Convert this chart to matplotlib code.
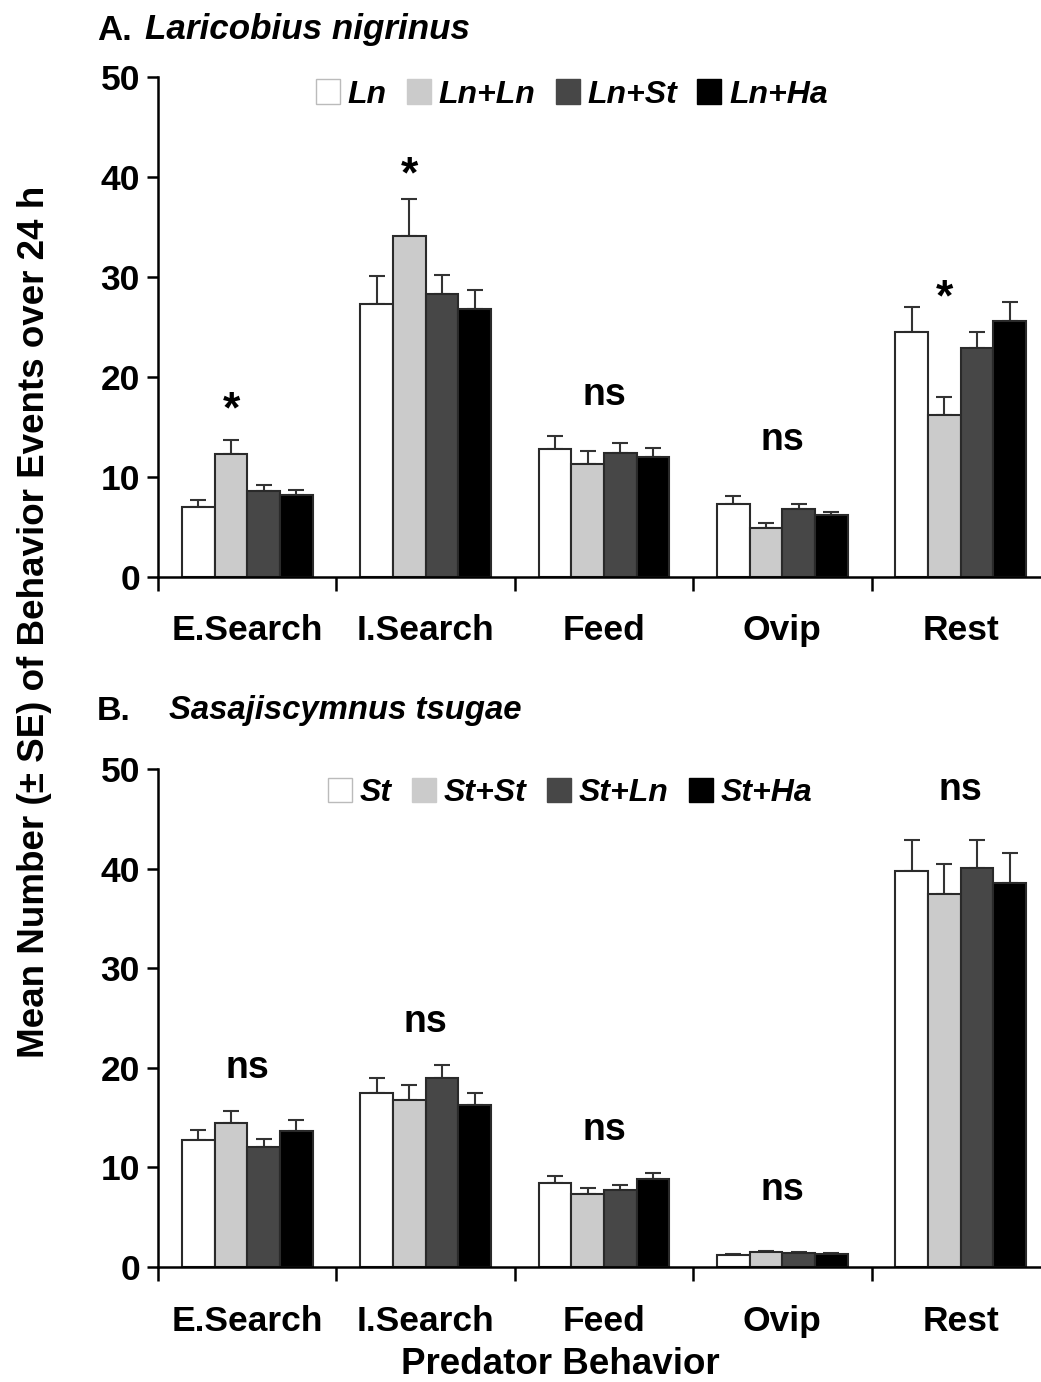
import numpy as np
from matplotlib import pyplot as plt
from matplotlib.patches import Patch

plt.rcParams['font.family'] = ['Liberation Sans', 'DejaVu Sans']
plt.rcParams['font.weight'] = 'bold'

behaviors = ["E.Search", "I.Search", "Feed", "Ovip", "Rest"]

# panel A: Laricobius nigrinus
groups_a = ["Ln", "Ln+Ln", "Ln+St", "Ln+Ha"]
mean_ln = [7.0, 27.3, 12.8, 7.3, 24.5]
mean_lnln = [12.3, 34.1, 11.3, 4.9, 16.2]
mean_lnst = [8.6, 28.3, 12.4, 6.8, 22.9]
mean_lnha = [8.2, 26.8, 12.0, 6.2, 25.6]
se_ln = [0.7, 2.8, 1.3, 0.8, 2.5]
se_lnln = [1.4, 3.7, 1.3, 0.5, 1.8]
se_lnst = [0.6, 1.9, 1.0, 0.5, 1.6]
se_lnha = [0.5, 1.9, 0.9, 0.3, 1.9]
sig_a = ["*", "*", "ns", "ns", "*"]

# panel B: Sasajiscymnus tsugae
groups_b = ["St", "St+St", "St+Ln", "St+Ha"]
mean_st = [12.8, 17.5, 8.4, 1.25, 39.8]
mean_stst = [14.5, 16.8, 7.3, 1.55, 37.4]
mean_stln = [12.0, 19.0, 7.7, 1.45, 40.1]
mean_stha = [13.7, 16.3, 8.8, 1.35, 38.6]
se_st = [1.0, 1.5, 0.7, 0.1, 3.1]
se_stst = [1.2, 1.5, 0.6, 0.1, 3.1]
se_stln = [0.85, 1.3, 0.5, 0.1, 2.8]
se_stha = [1.1, 1.2, 0.6, 0.1, 3.0]
sig_b = ["ns", "ns", "ns", "ns", "ns"]

colors = ["white", "#cbcbcb", "#474747", "black"]
edge = "#2a2a2a"


def draw_panel(ax, means, ses, groups, sig, sig_pos, leg_xy):
    x = np.arange(len(behaviors))
    width = 0.183
    offsets = (np.arange(4) - 1.5) * width
    for i in range(4):
        ax.bar(x + offsets[i], means[i], width, color=colors[i],
               edgecolor=edge, linewidth=1.5, zorder=2)
        err = [np.zeros(len(behaviors)), ses[i]]
        ax.errorbar(x + offsets[i], means[i], yerr=err, fmt="none",
                    ecolor="#333333", elinewidth=1.5, capsize=5.5,
                    capthick=1.5, zorder=1)
    for j, s in enumerate(sig):
        xp, yp = sig_pos[j]
        size = 32 if s == "*" else 27
        ax.text(j + xp, yp, s, ha="center", va="center",
                fontsize=size, fontweight="bold")

    ax.set_xlim(-0.5, 4.5)
    ax.set_ylim(0, 50)
    ax.set_yticks(np.arange(0, 51, 10))
    ax.set_xticks(np.arange(-0.5, 5.0, 1.0))
    ax.set_xticklabels([])
    ax.set_xticks(x, minor=True)
    ax.set_xticklabels(behaviors, minor=True)
    ax.tick_params(axis="x", which="major", length=10, width=1.8, direction="out")
    ax.tick_params(axis="x", which="minor", length=0, pad=27, labelsize=25.5)
    ax.tick_params(axis="y", length=8, width=1.8, labelsize=25.5, pad=5)
    for sp in ["top", "right"]:
        ax.spines[sp].set_visible(False)
    for sp in ["left", "bottom"]:
        ax.spines[sp].set_linewidth(1.8)

    handles = [Patch(facecolor=c, edgecolor=("#bbbbbb" if c == "white" else c))
               for c in colors]
    leg = ax.legend(handles, groups, ncol=4, frameon=False, loc="center",
                    bbox_to_anchor=leg_xy, handlelength=0.75,
                    handleheight=0.8, handletextpad=0.25, columnspacing=0.63,
                    prop={"size": 23, "weight": "bold", "style": "italic"})
    return leg


fig = plt.figure(figsize=(10.41, 13.82), dpi=100)
ax_a = fig.add_axes([0.1518, 0.5825, 0.8568, 0.3618])
ax_b = fig.add_axes([0.1518, 0.0832, 0.8568, 0.3604])

draw_panel(ax_a, [mean_ln, mean_lnln, mean_lnst, mean_lnha],
           [se_ln, se_lnln, se_lnst, se_lnha], groups_a, sig_a,
           [(-0.09, 16.6), (-0.09, 40.1), (0, 18.2), (0, 13.7), (-0.09, 27.8)],
           (0.464, 0.965))
draw_panel(ax_b, [mean_st, mean_stst, mean_stln, mean_stha],
           [se_st, se_stst, se_stln, se_stha], groups_b, sig_b,
           [(0, 20.0), (0, 24.6), (0, 13.75), (0, 7.7), (0, 47.9)],
           (0.462, 0.952))

# panel titles
fig.text(97 / 1041, 1 - 30 / 1382, "A.", fontsize=25, fontweight="bold", va="center")
fig.text(145 / 1041, 1 - 30 / 1382, "Laricobius nigrinus", fontsize=25.2,
         fontweight="bold", style="italic", va="center")
fig.text(97 / 1041, 1 - 711 / 1382, "B.", fontsize=24.5, fontweight="bold", va="center")
fig.text(169 / 1041, 1 - 711 / 1382, "Sasajiscymnus tsugae", fontsize=23.7,
         fontweight="bold", style="italic", va="center")

fig.text(35 / 1041, 1 - 622 / 1382, "Mean Number (\u00b1 SE) of Behavior Events over 24 h",
         fontsize=26.5, fontweight="bold", rotation=90, ha="center", va="center")
fig.text(560 / 1041, 1 - 1364 / 1382, "Predator Behavior", fontsize=26.5,
         fontweight="bold", ha="center", va="center")

fig.savefig("out.png", dpi=100)
